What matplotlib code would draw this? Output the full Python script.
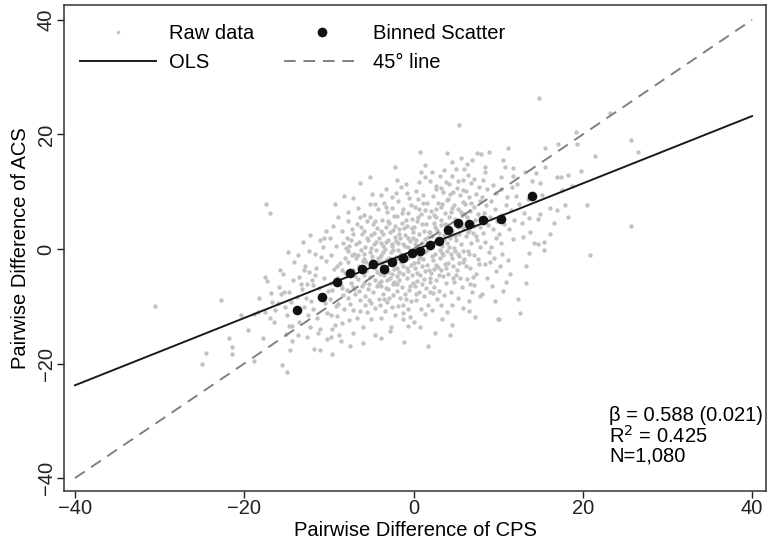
import matplotlib
matplotlib.use("Agg")
import matplotlib.pyplot as plt
from matplotlib.lines import Line2D

plt.rcParams['font.family'] = ['Liberation Sans', 'DejaVu Sans']

# raw data points (CPS diff, ACS diff)
raw_far_left = [(-30.5, -9.9), (-24.5, -18.1), (-25.0, -20.0), (-22.7, -8.9), (-21.8, -15.6),
                (-21.5, -17.1), (-21.4, -18.4), (-20.4, -11.5), (-19.6, -14.2), (-17.8, -15.5),
                (-18.8, -19.6), (-17.4, 7.8), (-16.9, 6.3), (-17.5, -4.9), (-17.3, -5.6),
                (-18.2, -8.5), (-18.8, -11.3), (-18.4, -11.0), (-17.5, -11.0), (-16.8, -7.7),
                (-16.7, -9.2), (-17.0, -12.0), (-16.5, -12.7), (-16.4, -10.7), (-16.0, -9.5)]
raw_left = [(-15.9, -6.6), (-15.3, -7.5), (-15.6, -7.8), (-14.2, -5.5), (-14.7, -7.5), (-15.1, -14.8),
            (-14.7, -13.4), (-14.4, -13.4), (-15.5, -20.2), (-15.0, -21.4), (-14.6, -17.7), (-14.3, -16.0),
            (-14.1, -2.3), (-15.2, -10.2), (-14.5, -9.3), (-15.8, -3.6), (-14.8, -0.5), (-14.9, -11.6),
            (-15.4, -4.4), (-13.7, -15.1), (-13.5, -4.9), (-13.0, -3.6), (-12.4, -4.1), (-12.8, -2.9),
            (-13.5, -12.8), (-12.5, -11.6), (-12.2, -13.7), (-12.1, -9.0), (-12.6, -6.2), (-13.2, -7.0),
            (-13.8, -8.4), (-12.3, -0.4), (-13.1, 1.3), (-12.9, -10.2), (-13.6, -1.0), (-12.0, -5.5),
            (-13.3, -6.1), (-12.7, -8.6), (-12.2, 2.5), (-11.7, -0.9), (-11.8, -17.4), (-11.0, -13.9),
            (-11.0, -17.7), (-11.5, -3.3), (-10.4, -2.1), (-11.2, -6.8), (-10.6, -5.0), (-10.8, -8.0),
            (-11.9, -10.5), (-10.2, -11.2), (-11.4, -12.0), (-10.5, -9.5), (-11.1, 1.6), (-10.3, 3.1),
            (-11.6, -4.5), (-10.9, -1.4), (-10.1, -7.3), (-11.3, -14.6), (-10.7, 0.4), (-11.9, -6.3),
            (-10.2, -15.8), (-10.6, 2.0), (-12.6, -15.4)]
raw_mid_left = [(-9.6, -18.4), (-9.8, -15.3), (-8.8, -15.0), (-8.6, -16.0), (-9.0, -11.7), (-8.4, -12.9),
                (-9.8, -11.5), (-8.2, 9.2), (-9.3, 7.8), (-8.9, 5.6), (-9.5, 4.0), (-8.5, 3.2),
                (-9.9, 2.0), (-9.2, 0.6), (-8.3, 1.1), (-9.7, -1.0), (-8.7, -2.4), (-9.4, -3.5),
                (-8.1, -4.2), (-9.1, -5.0), (-8.6, -6.3), (-9.6, -7.1), (-8.3, -8.0), (-9.9, -8.8),
                (-8.9, -9.6), (-8.2, -10.4), (-9.3, -13.2), (-8.1, -1.5), (-9.0, -2.9), (-8.0, 0.2),
                (-9.7, -5.9), (-8.4, -6.9), (-9.2, -9.9), (-7.5, -17.0), (-6.0, -16.4), (-6.0, -13.6),
                (-7.1, -14.6), (-7.2, -10.6), (-6.3, -10.8), (-7.1, 8.9), (-6.3, 11.5), (-6.3, 5.6),
                (-7.8, 6.4), (-6.7, 4.3), (-7.3, 3.5), (-6.1, 2.6), (-7.9, 2.0), (-6.5, 1.3),
                (-7.6, 0.5), (-6.2, -0.1), (-7.0, -0.8), (-6.8, -1.6), (-7.7, -2.2), (-6.4, -2.9),
                (-7.2, -3.7), (-6.0, -4.1), (-7.9, -4.6), (-6.6, -5.3), (-7.4, -5.9), (-6.1, -6.4),
                (-7.0, -7.0), (-6.9, -7.9), (-7.8, -8.6), (-6.3, -8.9), (-7.5, -9.6), (-6.7, -12.0),
                (-7.6, -12.4), (-6.5, -3.4), (-7.3, -1.1), (-6.2, 3.8), (-7.1, -6.7), (-6.8, 0.9),
                (-7.9, -7.2), (-6.0, -2.1), (-7.4, 1.6), (-6.6, 7.2), (-7.7, 4.8), (-9.6, -13.9),
                (-8.5, -3.7), (-7.7, -0.4), (-7.2, 2.6), (-6.9, -4.8), (-6.4, -7.3), (-6.6, -1.0)]
raw_core_left = [(-5.2, 7.8), (-5.1, 12.5), (-4.6, 7.8), (-4.2, 6.9), (-5.8, 6.0), (-5.5, 4.9),
                 (-4.8, 4.3), (-4.3, 3.6), (-5.9, 3.1), (-5.0, 2.4), (-4.1, 2.0), (-5.4, 1.5),
                 (-4.7, 0.9), (-5.7, 0.4), (-4.4, -0.2), (-5.2, -0.6), (-4.9, -1.2), (-5.8, -1.8),
                 (-4.2, -2.3), (-5.3, -2.9), (-4.6, -3.3), (-5.6, -3.9), (-4.0, -4.4), (-5.1, -4.9),
                 (-4.5, -5.5), (-5.9, -5.9), (-4.3, -6.5), (-5.4, -7.0), (-4.8, -7.6), (-5.7, -8.2),
                 (-4.1, -8.8), (-5.0, -9.5), (-4.6, -10.3), (-5.5, -11.0), (-4.5, -15.1), (-5.0, -12.3),
                 (-4.9, 9.6), (-5.6, -2.3), (-4.4, 1.2), (-5.3, -6.1), (-4.7, 2.8), (-5.8, -4.6),
                 (-4.2, -1.5), (-5.1, 5.6), (-4.0, -9.8), (-3.9, -15.5), (-3.9, -12.0), (-3.2, 10.4),
                 (-3.8, 9.4), (-2.2, 14.4), (-2.8, -14.4), (-2.7, -13.7), (-3.5, 8.0), (-2.6, 7.1),
                 (-3.1, 6.4), (-2.3, 5.8), (-3.7, 5.1), (-2.9, 4.6), (-3.3, 3.9), (-2.4, 3.3),
                 (-3.6, 2.7), (-2.2, 2.1), (-3.0, 1.6), (-3.9, 1.0), (-2.5, 0.5), (-3.4, 0.0),
                 (-2.7, -0.5), (-3.8, -1.0), (-2.1, -1.4), (-3.2, -1.9), (-2.6, -2.5), (-3.7, -3.0),
                 (-2.3, -3.5), (-3.0, -4.0), (-3.5, -4.6), (-2.8, -5.1), (-3.9, -5.6), (-2.4, -6.2),
                 (-3.3, -6.8), (-2.0, -7.3), (-3.6, -7.9), (-2.9, -8.5), (-3.1, -9.3), (-2.5, -10.1),
                 (-3.4, -10.8), (-2.2, -11.5), (-3.7, -2.2), (-2.8, 2.9), (-3.5, -8.7), (-2.4, -0.2),
                 (-3.0, 4.9), (-2.6, -4.4), (-3.8, -6.4), (-2.1, 1.4), (-3.3, 7.4), (-2.9, -1.6),
                 (-2.3, -5.7), (-3.6, 0.6), (-2.1, 9.7), (-5.9, -0.9), (-5.5, 2.0), (-5.3, -8.9),
                 (-4.9, -2.0), (-4.5, 4.9), (-4.3, -4.0), (-4.1, -6.0), (-3.8, 3.1), (-3.6, -0.5),
                 (-3.4, -3.6), (-3.2, 1.2), (-3.0, -7.0), (-2.8, -2.3), (-2.6, 0.9), (-2.4, -8.0),
                 (-2.2, 4.0), (-5.0, 0.1), (-4.0, -1.4), (-3.1, -5.4), (-5.7, -9.8), (-2.5, 9.0)]
raw_core_mid = [(-1.1, -16.2), (-1.3, -12.3), (-1.3, -11.1), (-0.7, -13.4), (-2.0, 12.0), (-1.5, 10.9),
                (-0.5, 8.9), (-0.9, 11.3), (-1.8, 8.4), (-0.3, 7.6), (-1.2, 7.0), (-0.6, 6.3),
                (-1.9, 5.7), (-0.2, 5.2), (-1.4, 4.6), (-0.8, 4.0), (-1.7, 3.5), (-0.1, 3.0),
                (-1.0, 2.4), (-1.6, 1.9), (-0.4, 1.4), (-1.3, 0.8), (-0.7, 0.3), (-1.8, -0.2),
                (-0.2, -0.7), (-1.1, -1.2), (-0.9, -1.8), (-1.5, -2.3), (-0.3, -2.8), (-1.9, -3.3),
                (-0.6, -3.9), (-1.2, -4.4), (-0.8, -5.0), (-1.7, -5.5), (-0.1, -6.0), (-1.4, -6.6),
                (-0.5, -7.2), (-1.0, -7.8), (-1.6, -8.5), (-0.3, -9.1), (-1.2, -9.8), (-0.6, -10.5),
                (-1.8, -10.0), (-0.4, -11.8), (-1.5, -0.8), (-0.9, 5.0), (-0.2, -4.6), (-1.7, 2.7),
                (-0.6, -1.5), (-1.3, -3.0), (-0.1, 1.9), (-1.9, -6.2), (-0.8, 9.8), (-1.1, 3.7),
                (0.8, 17.0), (0.7, 11.7), (1.9, 11.8), (1.7, -16.9), (0.8, -13.7), (0.1, -12.7),
                (1.4, 14.6), (0.3, 10.2), (1.1, 9.4), (0.5, 8.7), (1.6, 8.1), (0.2, 7.4),
                (1.3, 6.8), (0.9, 6.1), (1.8, 5.5), (0.4, 4.9), (1.5, 4.3), (0.0, 3.8),
                (1.2, 3.2), (0.6, 2.6), (1.7, 2.1), (0.3, 1.5), (1.0, 1.0), (1.9, 0.4),
                (0.7, -0.1), (1.4, -0.6), (0.1, -1.1), (1.1, -1.7), (0.5, -2.2), (1.6, -2.8),
                (0.2, -3.3), (1.3, -3.9), (0.8, -4.5), (1.9, -5.0), (0.4, -5.6), (1.0, -6.2),
                (1.5, -6.9), (0.6, -7.5), (1.2, -8.2), (0.3, -8.9), (1.7, -9.7), (0.9, -10.4),
                (1.4, -11.3), (0.0, -0.4), (1.8, 3.0), (0.5, 5.6), (1.0, -3.0), (1.6, 0.9),
                (0.2, -6.4), (1.3, 12.6), (0.7, -1.6), (1.9, -7.6), (-2.0, -4.7), (-1.8, 1.1),
                (-1.6, -1.1), (-1.4, 6.2), (-1.2, -2.0), (-1.0, 0.6), (-0.8, -3.4), (-0.6, 2.0),
                (-0.4, -6.5), (-0.2, 3.6), (0.0, -2.4), (0.2, 0.8), (0.4, -4.2), (0.6, 6.9),
                (0.8, -1.3), (1.0, 4.4), (1.2, -5.3), (1.4, 1.7), (1.6, -0.1), (1.8, -3.6),
                (-1.7, -4.1), (-0.9, -8.7), (0.3, -7.8), (1.1, 8.0), (0.9, 13.4)]
raw_core_right = [(2.6, 10.4), (3.8, 11.7), (3.4, -12.3), (2.5, -14.7), (2.2, 13.5), (3.1, 12.8),
                  (2.7, 11.0), (3.5, 9.9), (2.3, 9.2), (3.9, 8.6), (2.9, 8.0), (3.2, 7.3),
                  (2.1, 6.7), (3.7, 6.2), (2.6, 5.6), (3.3, 5.0), (2.4, 4.5), (3.8, 3.9),
                  (2.8, 3.4), (3.0, 2.8), (2.2, 2.3), (3.6, 1.7), (2.7, 1.2), (3.4, 0.6),
                  (2.0, 0.1), (3.9, -0.4), (2.5, -0.9), (3.1, -1.5), (2.3, -2.0), (3.7, -2.6),
                  (2.9, -3.1), (3.3, -3.7), (2.1, -4.2), (3.5, -4.8), (2.6, -5.4), (3.8, -6.0),
                  (2.4, -6.7), (3.0, -7.3), (3.6, -8.0), (2.8, -8.8), (3.2, -9.7), (2.2, -10.6),
                  (3.9, -11.0), (2.7, 7.0), (3.1, -0.1), (2.5, 3.8), (3.5, -1.0), (2.0, -5.8),
                  (3.7, 4.4), (2.4, -3.5), (3.3, 10.6), (4.0, 16.7), (4.5, 15.2), (5.6, 15.8),
                  (5.4, 21.7), (4.5, 12.7), (4.3, -15.1), (4.5, -13.2), (5.8, 12.1), (4.2, 11.3),
                  (5.1, 10.7), (4.7, 10.0), (5.5, 9.4), (4.1, 8.7), (5.9, 8.2), (4.8, 7.6),
                  (5.3, 7.0), (4.4, 6.5), (5.7, 5.9), (4.9, 5.3), (5.2, 4.8), (4.0, 4.2),
                  (5.8, 3.7), (4.6, 3.1), (5.4, 2.6), (4.3, 2.0), (5.0, 1.5), (5.6, 0.9),
                  (4.2, 0.3), (4.9, -0.3), (5.3, -0.9), (4.5, -1.6), (5.9, -2.2), (4.7, -2.9),
                  (5.1, -3.6), (4.1, -4.3), (5.5, -5.0), (4.8, -5.8), (5.7, -6.7), (4.4, -7.6),
                  (5.2, -8.6), (4.6, -9.7), (5.8, -10.3), (5.0, 13.9), (4.3, 9.6), (5.6, 6.4),
                  (4.9, 2.3), (5.4, -1.2), (4.1, -2.5), (5.2, 11.8), (2.0, 3.0), (2.2, -1.2),
                  (2.4, 6.0), (2.6, -2.8), (2.8, 1.6), (3.0, -4.6), (3.2, 4.1), (3.4, -0.7),
                  (3.6, 2.4), (3.8, -3.3), (4.0, 1.0), (4.2, 5.5), (4.4, -0.8), (4.6, 7.1),
                  (4.8, 0.2), (5.0, -4.5), (5.2, 3.9), (5.4, -2.5), (5.6, 4.4), (5.8, -0.3),
                  (2.3, -7.7), (3.4, 7.9), (4.7, -5.1), (5.9, 10.3), (3.6, 13.8)]
raw_mid_right = [(6.0, 13.9), (6.9, 15.6), (7.5, 16.7), (6.6, -10.8), (6.4, 12.9), (7.2, 12.3),
                 (6.8, 11.5), (7.7, 10.8), (6.2, 10.2), (7.4, 9.6), (6.6, 9.0), (7.9, 8.4),
                 (6.1, 7.8), (7.1, 7.3), (6.7, 6.7), (7.6, 6.1), (6.3, 5.6), (7.3, 5.0),
                 (6.9, 4.5), (7.8, 3.9), (6.5, 3.4), (7.0, 2.8), (6.2, 2.2), (7.5, 1.6),
                 (6.8, 1.0), (7.9, 0.4), (6.4, -0.3), (7.2, -1.0), (6.0, -1.8), (7.7, -2.6),
                 (6.7, -3.4), (7.4, -4.3), (6.3, -5.3), (7.1, -6.3), (6.9, -7.5), (7.8, -8.2),
                 (6.5, -9.0), (7.3, -11.9), (8.0, 16.5), (8.9, 17.0), (8.5, 14.4), (8.4, 13.4),
                 (8.2, 12.0), (9.4, 11.2), (8.7, 10.5), (9.8, 9.8), (8.1, 9.1), (9.2, 8.4),
                 (8.6, 7.7), (9.6, 7.0), (8.3, 6.3), (9.0, 5.6), (9.9, 4.9), (8.8, 4.2),
                 (9.4, 3.5), (8.2, 2.8), (9.7, 2.0), (8.5, 1.2), (9.1, 0.4), (8.9, -0.5),
                 (9.5, -1.5), (8.4, -2.6), (9.8, -3.8), (8.7, -5.0), (9.3, -6.4), (8.1, -7.9),
                 (9.6, -9.1), (10.0, -12.2), (6.0, 6.1), (6.2, -2.9), (6.4, 3.0), (6.6, -0.8),
                 (6.8, 8.1), (7.0, -4.9), (7.2, 4.0), (7.4, 2.3), (7.6, -1.7), (7.8, 5.4),
                 (6.7, -6.2), (6.3, 14.8), (9.0, -2.2)]
raw_right = [(10.3, 12.5), (10.6, 15.5), (10.8, 14.3), (11.8, 14.1), (11.8, 12.7), (11.2, 17.6),
             (11.1, 9.0), (12.1, 9.2), (10.3, 10.4), (10.3, 1.0), (10.5, -0.9), (11.2, -1.9),
             (10.2, -3.0), (11.4, -4.4), (10.1, -12.3), (10.9, 7.6), (11.5, 6.8), (10.4, 5.9),
             (11.9, 5.1), (10.7, 4.3), (11.3, 3.5), (10.1, 2.6), (11.7, 1.8), (10.9, -5.8),
             (11.6, 10.9), (13.2, 13.4), (14.0, 11.8), (12.3, -8.7), (12.6, -11.1), (13.3, -3.0),
             (13.3, -5.9), (13.6, -0.7), (13.8, 3.0), (12.5, 7.9), (13.0, 6.3), (12.8, 4.6),
             (13.5, 8.8), (12.2, 11.3), (12.9, 2.1), (13.7, 5.4), (10.6, -7.4)]
raw_far_right = [(14.8, 26.4), (15.5, 17.7), (15.5, 14.3), (14.9, 11.5), (14.9, 6.1), (14.7, 5.2),
                 (14.2, 1.0), (14.7, 0.9), (15.4, 1.2), (15.4, -0.2), (16.1, 7.1), (16.1, 2.6),
                 (15.2, 9.4), (14.5, 13.2), (17.1, 18.4), (19.2, 20.4), (19.3, 18.4), (16.9, 12.5),
                 (17.4, 12.5), (18.2, 12.9), (19.8, 13.7), (17.5, 10.3), (18.7, 11.0), (17.9, 7.7),
                 (18.2, 5.6), (17.0, 6.8), (16.6, 4.5), (20.5, 7.7), (21.4, 16.3), (23.2, 23.8),
                 (20.8, -1.1), (25.7, 19.1), (26.5, 17.0), (25.7, 4.0)]

# binned scatter
bin_x = [-13.8, -10.8, -9.0, -7.5, -6.1, -4.8, -3.5, -2.5, -1.3, -0.2,
         0.8, 1.9, 3.0, 4.1, 5.3, 6.6, 8.2, 10.3, 14.0]
bin_y = [-10.6, -8.3, -5.7, -4.2, -3.5, -2.6, -3.5, -2.2, -1.6, -0.7,
         -0.4, 0.7, 1.4, 3.4, 4.5, 4.3, 5.1, 5.2, 9.3]

# fitted lines
line_x = [-40, 40]
ols_y = [-23.8, 23.2]
diag_y = [-40, 40]

ticks = [-40, -20, 0, 20, 40]
stats_text = "\u03b2 = 0.588 (0.021)\nR$^{2}$ = 0.425\nN=1,080"

raw = (raw_far_left + raw_left + raw_mid_left + raw_core_left + raw_core_mid
       + raw_core_right + raw_mid_right + raw_right + raw_far_right)
raw_x = [p[0] for p in raw]
raw_y = [p[1] for p in raw]

fs = 14.5

fig = plt.figure(figsize=(7.68, 5.44), dpi=100)
ax = fig.add_axes([64 / 768, 53 / 544, 702 / 768, 486 / 544])

ax.scatter(raw_x, raw_y, s=10, color='#c2c2c2', linewidths=0, zorder=2)
ax.plot(line_x, diag_y, color='#808080', lw=1.4, dashes=(6, 4), zorder=3)
ax.plot(line_x, ols_y, color='#1a1a1a', lw=1.4, zorder=4)
ax.scatter(bin_x, bin_y, s=48, color='#111111', linewidths=0, zorder=5)

ax.set_xlim(-41.3, 41.65)
ax.set_ylim(-42.26, 42.6)
ax.set_xticks(ticks)
ax.set_yticks(ticks)
ax.tick_params(direction='out', length=5, width=1, pad=1, labelsize=fs, colors='#222222')
for lab in ax.get_yticklabels():
    lab.set_rotation(90)
    lab.set_va('center')
for s in ax.spines.values():
    s.set_linewidth(1.1)
    s.set_color('#333333')

ax.set_xlabel("Pairwise Difference of CPS", fontsize=fs, labelpad=2)
ax.set_ylabel("Pairwise Difference of ACS", fontsize=fs, labelpad=5)

ax.text(23.1, -27.4, stats_text, fontsize=fs, va='top', ha='left', linespacing=1.0)

handles = [
    Line2D([], [], ls='', marker='o', ms=2.5, color='#c2c2c2', mec='none'),
    Line2D([], [], color='#1a1a1a', lw=1.4),
    Line2D([], [], ls='', marker='o', ms=7, color='#111111', mec='none'),
    Line2D([], [], color='#808080', lw=1.4, dashes=(6, 4)),
]
labels = ["Raw data", "OLS", "Binned Scatter", "45\u00b0 line"]
fig.legend(handles, labels, ncol=2, loc='upper left', bbox_to_anchor=(80 / 768, 1 - 24 / 544),
           frameon=False, fontsize=fs, handlelength=3.75, handletextpad=0.65,
           columnspacing=1.5, labelspacing=0.5, borderpad=0, borderaxespad=0)

fig.savefig("out.png", dpi=100)
